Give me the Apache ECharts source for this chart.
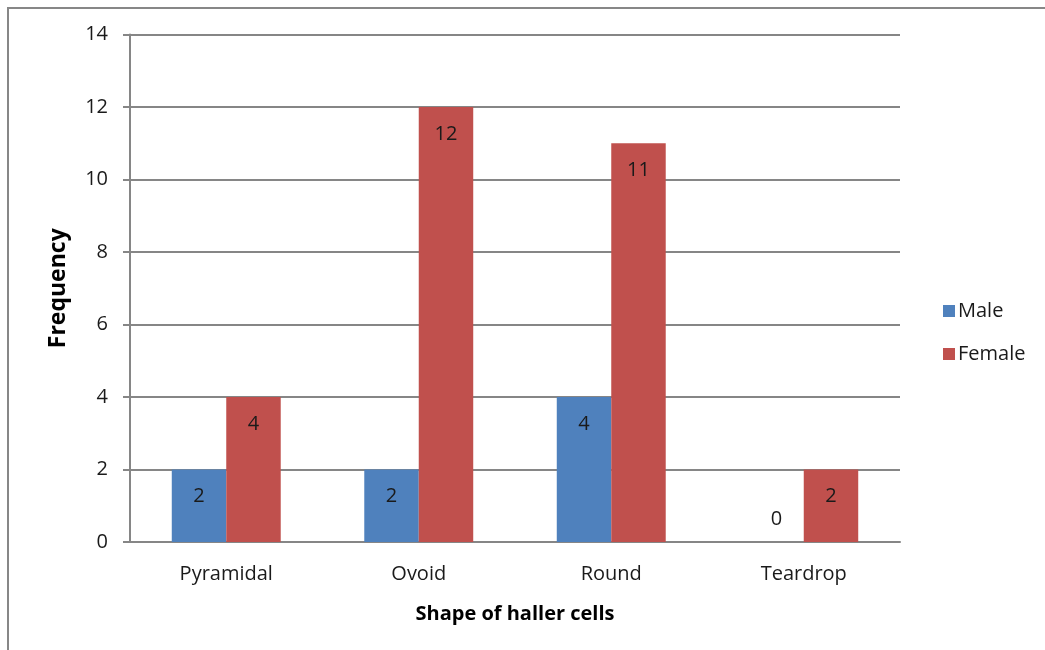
<!DOCTYPE html>
<html>
<head>
<meta charset="utf-8">
<script src="https://cdn.jsdelivr.net/npm/echarts@6/dist/echarts.min.js"></script>
<style>
html,body{margin:0;padding:0;background:#fff;}
#c{width:1045px;height:650px;}
</style>
</head>
<body>
<div id="c"></div>
<script>
const categories = ['Pyramidal', 'Ovoid', 'Round', 'Teardrop'];
const maleValues = [2, 2, 4, 0];
const femaleValues = [4, 12, 11, 2];
const yTicks = [0, 2, 4, 6, 8, 10, 12, 14];

const FONT = 'Open Sans';
const chart = echarts.init(document.getElementById('c'), null, {renderer: 'canvas'});

function toData(vals) {
  return vals.map(v => v === 0
    ? {value: v, label: {position: 'top', distance: 13}}
    : v);
}

const labelCfg = {
  show: true,
  position: 'insideTop',
  distance: 17,
  color: '#1a1a1a',
  fontFamily: FONT,
  fontSize: 20
};

chart.setOption({
  animation: false,
  backgroundColor: '#fff',
  textStyle: {fontFamily: FONT},
  graphic: [
    {type: 'polyline', shape: {points: [[8, 650], [8, 8], [1045, 8]]},
     style: {stroke: '#878787', lineWidth: 2, fill: null}}
  ],
  grid: {left: 130, right: 145, top: 34.5, bottom: 108, containLabel: false},
  legend: {
    orient: 'vertical',
    left: 938,
    top: 296,
    itemWidth: 12,
    itemHeight: 12,
    itemGap: 23,
    icon: 'rect',
    textStyle: {fontFamily: FONT, fontSize: 20, color: '#1a1a1a', padding: [0, 0, 0, -2]},
    data: ['Male', 'Female']
  },
  xAxis: {
    type: 'category',
    data: categories,
    axisLine: {lineStyle: {color: '#868686', width: 2}},
    axisTick: {show: false},
    axisLabel: {fontFamily: FONT, fontSize: 20, color: '#1a1a1a', margin: 22},
    name: 'Shape of haller cells',
    nameLocation: 'middle',
    nameGap: 62,
    nameTextStyle: {fontFamily: FONT, fontSize: 20, fontWeight: 'bold', color: '#000'}
  },
  yAxis: {
    type: 'value',
    min: yTicks[0],
    max: yTicks[yTicks.length - 1],
    interval: 2,
    axisLine: {show: true, lineStyle: {color: '#868686', width: 2}},
    axisTick: {show: true, length: 7, lineStyle: {color: '#868686', width: 2}},
    axisLabel: {fontFamily: FONT, fontSize: 20, color: '#1a1a1a', margin: 22},
    splitLine: {lineStyle: {color: '#868686', width: 2}},
    name: 'Frequency',
    nameLocation: 'middle',
    nameGap: 60,
    nameTextStyle: {fontFamily: FONT, fontSize: 23, fontWeight: 'bold', color: '#000'}
  },
  series: [
    {name: 'Male', type: 'bar', data: toData(maleValues), barWidth: '28.3%', barGap: '0%',
     itemStyle: {color: '#4F81BD'}, label: labelCfg},
    {name: 'Female', type: 'bar', data: toData(femaleValues), barWidth: '28.3%', barGap: '0%',
     itemStyle: {color: '#C0504D'}, label: labelCfg}
  ]
});
</script>
</body>
</html>
